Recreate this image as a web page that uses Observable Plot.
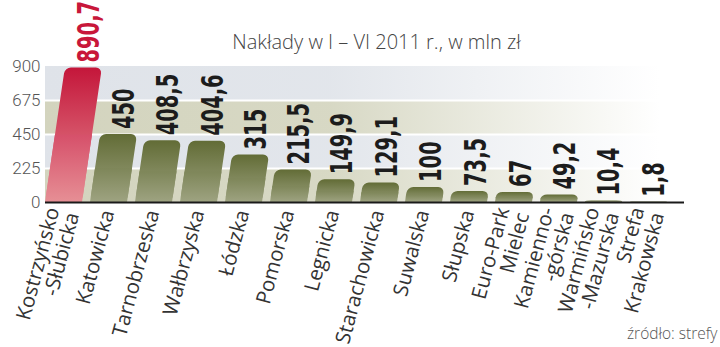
<!DOCTYPE html>
<html><head><meta charset="utf-8">
<script src="https://cdn.jsdelivr.net/npm/d3@7"></script>
<script src="https://cdn.jsdelivr.net/npm/@observablehq/plot@0.6"></script>
<style>
html,body{margin:0;padding:0;background:#fff;}
</style></head><body><div id="chart"></div>
<script>
const categories = [
  "Kostrzyńsko\n-Słubicka", "Katowicka", "Tarnobrzeska", "Wałbrzyska", "Łódzka",
  "Pomorska", "Legnicka", "Starachowicka", "Suwalska", "Słupska",
  "Euro-Park\nMielec", "Kamienno-\n-górska", "Warmińsko\n-Mazurska", "Strefa\nKrakowska"
];
const values = [890.7, 450, 408.5, 404.6, 315, 215.5, 149.9, 129.1, 100, 73.5, 67, 49.2, 10.4, 1.8];
const valueLabels = values.map(v => String(v).replace(".", ","));
const yTicks = [0, 225, 450, 675, 900];
const blueBandStarts = [225, 675];
const beigeBandStarts = [0, 450];
const bandStep = 225;
const title = "Nakłady w I – VI 2011 r., w mln zł";
const source = "źródło: strefy";

const data = categories.map((c, i) => ({cat: c, value: values[i], label: valueLabels[i]}));
const SKEW = 8.4;
const isFirst = (d, i) => i === 0;
const notFirst = (d, i) => i !== 0;
const labelFont = "'DejaVu Sans Condensed', 'DejaVu Sans', sans-serif";

const plot = Plot.plot({
  width: 720, height: 347,
  marginLeft: 45, marginRight: 41, marginTop: 66, marginBottom: 145,
  x: {domain: categories, paddingInner: 0.17, paddingOuter: 0, align: 0, axis: null},
  y: {domain: [0, 900], axis: null},
  style: {fontFamily: "'Open Sans', sans-serif", background: "white"},
  marks: [
    Plot.rect(blueBandStarts, {y1: d => d, y2: d => d + bandStep, fill: "url(#bandBlue)"}),
    Plot.rect(beigeBandStarts, {y1: d => d, y2: d => d + bandStep, fill: "url(#bandBeige)"}),
    Plot.ruleY([225, 450, 675], {stroke: "white", strokeWidth: 2}),
    Plot.barY(data, {x: "cat", y: "value", filter: isFirst, fill: "url(#gRed)", rx: 6}),
    Plot.barY(data, {x: "cat", y1: 0, y2: d => d.value / 2, filter: isFirst, fill: "url(#gRedLow)"}),
    Plot.barY(data, {x: "cat", y: "value", filter: notFirst, fill: "url(#gGreen)", rx: 6}),
    Plot.barY(data, {x: "cat", y1: 0, y2: d => d.value / 2, filter: notFirst, fill: "url(#gGreenLow)"}),
    Plot.ruleY([0], {stroke: "#1a1a1a", strokeWidth: 2, insetRight: -5}),
    Plot.axisY({ticks: yTicks, tickSize: 0, tickPadding: 5, label: null, fontSize: 17, fill: "#555", fontWeight: 300, fontFamily: "Roboto, sans-serif"}),
    Plot.text(data, {x: "cat", y: "value", text: "label", filter: isFirst, rotate: -90, textAnchor: "start",
      fill: "#c8173a", fontSize: 30, fontWeight: "bold", fontFamily: labelFont}),
    Plot.text(data, {x: "cat", y: "value", text: "label", filter: notFirst, rotate: -90, textAnchor: "start",
      fill: "#1c1c1c", fontSize: 30, fontWeight: "bold", fontFamily: labelFont}),
    Plot.text(data, {x: "cat", y: 0, text: "cat", rotate: -75, textAnchor: "end", lineAnchor: "middle",
      dy: 8, dx: -1, fontSize: 20.5, fill: "#333", lineHeight: 1.0}),
    Plot.text([title], {frameAnchor: "top", lineAnchor: "middle", dy: -24, dx: 14, fontSize: 20, fill: "#444", fontWeight: 300}),
    Plot.text([source], {frameAnchor: "bottom-right", lineAnchor: "middle", textAnchor: "end", dx: 38, dy: 132, fontSize: 15.5, fill: "#555", fontWeight: 300})
  ]
});

const svg = d3.select(plot);
const defs = svg.insert("defs", ":first-child");
function vgrad(id, top, bottom) {
  const g = defs.append("linearGradient").attr("id", id).attr("x1", 0).attr("y1", 0).attr("x2", 0).attr("y2", 1);
  g.append("stop").attr("offset", 0).attr("stop-color", top);
  g.append("stop").attr("offset", 1).attr("stop-color", bottom);
}
function hgrad(id, color) {
  const g = defs.append("linearGradient").attr("id", id).attr("x1", 0).attr("y1", 0).attr("x2", 1).attr("y2", 0);
  g.append("stop").attr("offset", 0).attr("stop-color", color).attr("stop-opacity", 1);
  g.append("stop").attr("offset", 0.45).attr("stop-color", color).attr("stop-opacity", 0.9);
  g.append("stop").attr("offset", 0.97).attr("stop-color", color).attr("stop-opacity", 0);
}
vgrad("gRed", "#c4163a", "#e68f95");
vgrad("gRedLow", "#d6506a", "#e68f95");
vgrad("gGreen", "#626c36", "#9ea381");
vgrad("gGreenLow", "#7e8659", "#9ea381");
hgrad("bandBlue", "#dfe3e9");
hgrad("bandBeige", "#d3d4be");

const ys = plot.scale("y"), xs = plot.scale("x");
const y0 = ys.apply(0);
const t = Math.tan(SKEW * Math.PI / 180);
// skew every bar group
svg.selectAll('g[aria-label="bar"]').attr("transform", `translate(${y0 * t},0) skewX(${-SKEW})`);
// value labels: the first two text groups
const textGroups = svg.selectAll('g[aria-label="text"]').nodes();
[textGroups[0], textGroups[1]].forEach(g => {
  d3.select(g).attr("transform", null).selectAll("text").attr("transform", function(i) {
    const d = data[i];
    const yt = ys.apply(d.value);
    const x = xs.apply(d.cat) + xs.bandwidth / 2 + (y0 - yt) * t + 6;
    return `translate(${x},${yt - 5}) rotate(-90) scale(0.72,1)`;
  });
});

document.getElementById("chart").appendChild(plot);
</script>
</body></html>
